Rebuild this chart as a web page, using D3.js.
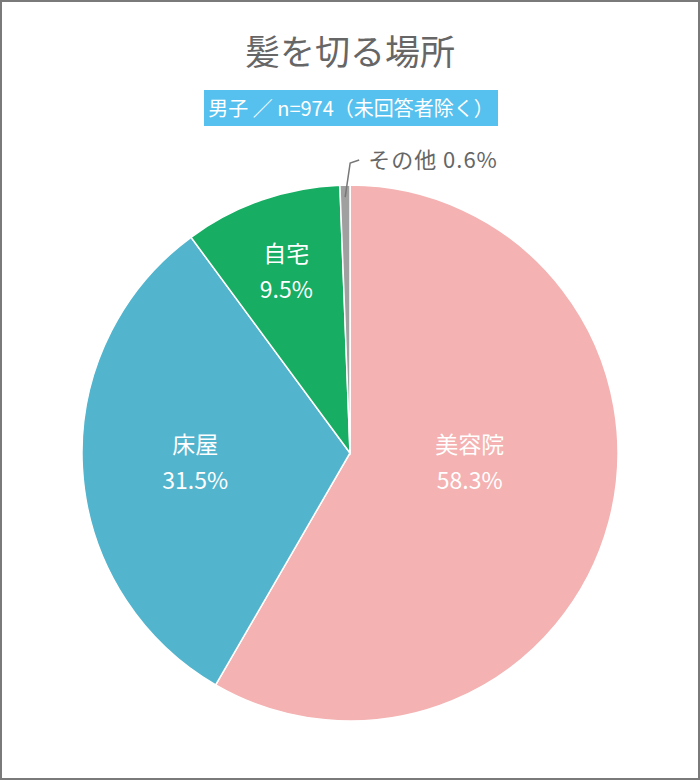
<!DOCTYPE html>
<html>
<head>
<meta charset="utf-8">
<script src="https://cdn.jsdelivr.net/npm/d3@7"></script>
<style>
  body { margin: 0; background: #fff; }
  text { font-family: "Noto Sans CJK JP", "Noto Sans", sans-serif; }
</style>
</head>
<body>
<div id="chart"></div>
<script>
// data
var categories = ["美容院", "床屋", "自宅", "その他"];
var values = [58.3, 31.5, 9.5, 0.6];
var colors = ["#f4b2b2", "#52b4cd", "#17ad63", "#a0a0a0"];

var width = 700, height = 780;
var cx = 350, cy = 453, radius = 268;

var svg = d3.select("#chart").append("svg")
    .attr("width", width)
    .attr("height", height);

// frame
svg.append("rect")
    .attr("x", 1).attr("y", 1)
    .attr("width", width - 2).attr("height", height - 2)
    .attr("fill", "#fff")
    .attr("stroke", "#7a7a7a")
    .attr("stroke-width", 2);

// title
svg.append("text")
    .attr("x", width / 2)
    .attr("y", 65)
    .attr("text-anchor", "middle")
    .attr("font-size", 35)
    .attr("fill", "#666")
    .text("髪を切る場所");

// subtitle box
svg.append("rect")
    .attr("x", 204).attr("y", 90)
    .attr("width", 294).attr("height", 36)
    .attr("fill", "#56c1ee");

svg.append("text")
    .attr("x", 351)
    .attr("y", 116)
    .attr("text-anchor", "middle")
    .attr("font-size", 20)
    .attr("fill", "#fff")
    .text("男子 ／ n=974（未回答者除く）");

var pie = d3.pie().sort(null).value(function(d) { return d; });
var arcs = pie(values);

var arc = d3.arc().innerRadius(0).outerRadius(radius);

var g = svg.append("g")
    .attr("transform", "translate(" + cx + "," + cy + ")");

g.selectAll("path.slice")
    .data(arcs)
    .enter().append("path")
    .attr("class", "slice")
    .attr("d", arc)
    .attr("fill", function(d, i) { return colors[i]; })
    .attr("stroke", "#fff")
    .attr("stroke-width", 1.5);

// inner labels (first three slices)
var labelRadius = [120, 155, 193];
var angleShift = [-0.19, 0, 0];

arcs.slice(0, 3).forEach(function(d, i) {
    var a = (d.startAngle + d.endAngle) / 2 + angleShift[i];
    var x = Math.sin(a) * labelRadius[i];
    var y = -Math.cos(a) * labelRadius[i];
    var t = g.append("text")
        .attr("text-anchor", "middle")
        .attr("font-size", 23)
        .attr("fill", "#fff");
    t.append("tspan").attr("x", x).attr("y", y - 9).text(categories[i]);
    t.append("tspan").attr("x", x).attr("y", y + 27).text(values[i].toFixed(1) + "%");
});

// leader label for the small slice
var small = arcs[3];
var sa = (small.startAngle + small.endAngle) / 2;
var p0 = [Math.sin(sa) * (radius - 12), -Math.cos(sa) * (radius - 12)];
var lx = p0[0] + 5;
g.append("polyline")
    .attr("points", [p0, [lx, -radius - 22], [lx + 9, -radius - 25]].map(function(p) { return p.join(","); }).join(" "))
    .attr("fill", "none")
    .attr("stroke", "#777")
    .attr("stroke-width", 1.5);

g.append("text")
    .attr("x", lx + 18)
    .attr("y", -radius - 17)
    .attr("font-size", 22)
    .attr("fill", "#666")
    .attr("letter-spacing", 1)
    .text(categories[3] + " " + values[3].toFixed(1) + "%");
</script>
</body>
</html>
